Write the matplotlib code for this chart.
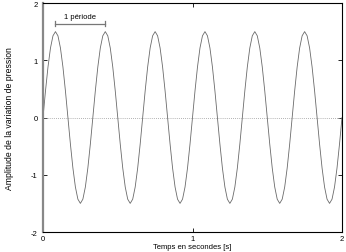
import numpy as np
import matplotlib
matplotlib.use("Agg")
import matplotlib.pyplot as plt

# pression amplitude, sampled every 1/60 s from 0 to 2 s (3 Hz, amplitude 1.5)
one_cycle = [0.0, 0.464, 0.882, 1.214, 1.427, 1.5, 1.427, 1.214, 0.882, 0.464,
             0.0, -0.464, -0.882, -1.214, -1.427, -1.5, -1.427, -1.214, -0.882, -0.464]
amplitude = one_cycle * 6 + [0.0]
temps = np.linspace(0, 2, len(amplitude))

periode_debut = 0.0833
periode_fin = 0.4167

plt.rcParams['font.family'] = ['Liberation Sans', 'DejaVu Sans']
plt.rcParams['axes.unicode_minus'] = False
fig = plt.figure(figsize=(3.46, 2.53), dpi=100)
ax = fig.add_axes([43/346, 1-233/253, 299/346, 229/253])

ax.axhline(0, color='#999999', lw=0.6, ls=(0, (1, 1.5)))
ax.plot(temps, amplitude, color='#6a6a6a', lw=0.6)

# 1 periode bracket
ax.plot([periode_debut, periode_fin], [1.64, 1.64], color='#777777', lw=0.9)
for xp in (periode_debut, periode_fin):
    ax.plot([xp, xp], [1.59, 1.69], color='#777777', lw=0.9)
ax.text((periode_debut + periode_fin) / 2, 1.71, '1 période', fontsize=5.5,
        ha='center', va='bottom')

ax.set_xlim(0, 2)
ax.set_ylim(-2, 2)
ax.set_xticks([0, 1, 2])
ax.set_yticks([-2, -1, 0, 1, 2])
ax.tick_params(direction='in', length=3, width=0.6, labelsize=5.5,
               top=True, right=True)
ax.tick_params(axis='x', pad=2)
ax.tick_params(axis='y', pad=4)
for s in ax.spines.values():
    s.set_linewidth(0.8)
ax.spines['left'].set_color('#888888')
ax.spines['left'].set_linewidth(1.6)

ax.set_xlabel('Temps en secondes [s]', fontsize=5.5, labelpad=1)
ax.set_ylabel('Amplitude de la variation de pression', fontsize=6.2, labelpad=12)

fig.savefig('out.png', dpi=100)
